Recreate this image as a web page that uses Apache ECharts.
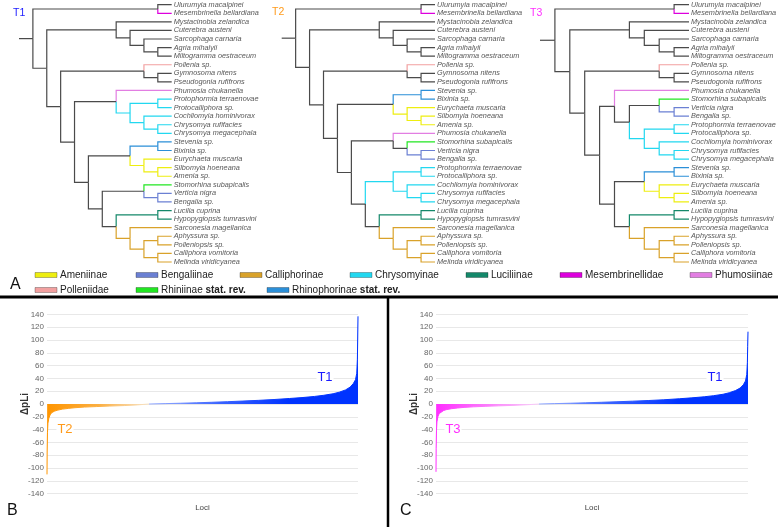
<!DOCTYPE html>
<html><head><meta charset="utf-8">
<script src="https://cdn.jsdelivr.net/npm/echarts@6/dist/echarts.min.js"></script>
<style>html,body{margin:0;padding:0;background:#fff}#c{width:778px;height:527px}</style>
</head><body><div id="c"></div>
<script>
// ---------- DATA ----------
const taxa = ['Ulurumyia macalpinei','Mesembrinella bellardiana','Mystacinobia zelandica','Cuterebra austeni',
 'Sarcophaga carnaria','Agria mihalyii','Miltogramma oestraceum','Pollenia sp.','Gymnosoma nitens',
 'Pseudogonia rufifrons','Phumosia chukanella','Protophormia terraenovae','Protocalliphora sp.',
 'Cochliomyia hominivorax','Chrysomya rufifacies','Chrysomya megacephala','Stevenia sp.','Bixinia sp.',
 'Eurychaeta muscaria','Silbomyia hoeneana','Amenia sp.','Stomorhina subapicalis','Verticia nigra',
 'Bengalia sp.','Lucilia cuprina','Hypopygiopsis tumrasvini','Sarconesia magellanica','Aphyssura sp.',
 'Polleniopsis sp.','Calliphora vomitoria','Melinda viridicyanea'];
// group index per taxon (-1 = uncoloured)
const taxonGroup = [-1,5,-1,-1,-1,-1,-1,7,-1,-1,6,3,3,3,3,3,9,9,0,0,0,8,1,1,4,4,2,2,2,2,2];
const groupNames = ['Ameniinae','Bengaliinae','Calliphorinae','Chrysomyinae','Luciliinae','Mesembrinellidae',
 'Phumosiinae','Polleniidae','Rhiniinae','Rhinophorinae'];
const groupColors = ['#eeee10','#6b80d3','#d9a22a','#22d8f0','#14886a','#dd00dd','#e27ee2','#f2a0a0','#22e622','#2b8fd8'];
const legendRow1 = [0,1,2,3,4,5,6];
const legendRow2 = [7,8,9];
const legendStatRev = [8,9];

// clades (taxon indices)
const cMes = [0,1];
const cOes = [2,[3,[4,[5,6]]]];
const cPol = [7,[8,9]];
const cChr = [[11,12],[13,[14,15]]];
const cRhAm = [[16,17],[18,[19,20]]];
const cRhBe = [21,[22,23]];
const cLuCa = [[24,25],[26,[[27,28],[29,30]]]];
const tree1 = [cMes,[cOes,[cPol,[[10,cChr],[cRhAm,[cRhBe,cLuCa]]]]]];
const tree2 = [cMes,[cOes,[cPol,[cRhAm,[[10,cRhBe],[cChr,cLuCa]]]]]];
const tree3 = [cMes,[cOes,[cPol,[[10,[cRhBe,cChr]],[cRhAm,cLuCa]]]]];
const treeLabels = ['T1','T2','T3'];

// ΔpLi per locus (loci as % of sorted loci)
const lociBNeg = [0,0.05,0.15,0.3,0.6,1.0,1.5,2.5,3.5,5,7,9,12,16,20,25,29,32.8];
const dpliBNeg = [-110,-75,-45,-30,-22,-17,-13.5,-11,-9.5,-8,-6.8,-5.8,-4.8,-4,-3.2,-2.4,-1.4,0];
const lociBPos = [32.8,38,43,48,53,58,63,68,73,78,82,86,89,92,94,96,97.5,98.5,99.2,99.6,99.8,99.9,100];
const dpliBPos = [0,0.6,1.2,1.9,2.7,3.6,4.6,5.7,7,8.6,10,11.8,13.6,16,18.5,22,26.5,32,38,48,70,100,137];
const lociCNeg = [0,0.05,0.15,0.3,0.6,1.0,1.5,2.5,3.5,5,7,9,12,16,20,25,29,33];
const dpliCNeg = [-106,-70,-42,-28,-20,-15,-12,-10,-8.6,-7.3,-6.2,-5.3,-4.4,-3.6,-2.9,-2.1,-1.2,0];
const lociCPos = [33,38,43,48,53,58,63,68,73,78,82,86,89,92,94,96,97.5,98.5,99.2,99.6,99.8,99.9,100];
const dpliCPos = [0,0.6,1.2,1.9,2.7,3.5,4.4,5.4,6.6,8.2,9.6,11.3,13,15.2,17.6,21,25,30,36,46,65,90,113];

// ---------- BUILD ----------
const FONT = '"Liberation Sans", Arial, sans-serif';
const DEF = '#4a4a4a';
function layoutTree(tree){
  let n = 0; const leaves = [], edges = [];
  const height = t => Array.isArray(t) ? 1 + Math.max(...t.map(height)) : 0;
  const H = height(tree);
  const groupOf = t => { if(!Array.isArray(t)) return taxonGroup[t];
    const g = t.map(groupOf); return g.every(v => v === g[0] && v >= 0) ? g[0] : -1; };
  function walk(t){
    if(!Array.isArray(t)){ const y = n++; leaves.push({name: taxa[t], value:[H,y]}); return {x:H,y}; }
    const k = t.map(walk);
    const x = H - height(t), y = (k[0].y + k[k.length-1].y)/2;
    t.forEach((c,i) => edges.push([x,k[i].x,y,k[i].y,groupOf(c)]));
    return {x,y};
  }
  const r = walk(tree);
  edges.push([-1,r.x,r.y,r.y,-1]);
  return {H, leaves, edges};
}
const trees = [tree1,tree2,tree3].map(layoutTree);
const treeLeft = [19, 281.7, 540], treeRight = [171.7, 435, 689];
const grid = [], xAxis = [], yAxis = [], series = [];
trees.forEach((t,i) => {
  grid.push({left: treeLeft[i], width: treeRight[i]-treeLeft[i], top: 4.7, height: 257.3, outerBoundsMode:'none'});
  xAxis.push({gridIndex:i, type:'value', min:-1, max:t.H, show:false});
  yAxis.push({gridIndex:i, type:'value', min:0, max:taxa.length-1, inverse:true, show:false});
  series.push({type:'custom', xAxisIndex:i, yAxisIndex:i, silent:true, data:t.edges,
    renderItem:(p,api) => {
      const g = api.value(4);
      const a = api.coord([api.value(0), api.value(2)]);
      const b = api.coord([api.value(0), api.value(3)]);
      const c = api.coord([api.value(1), api.value(3)]);
      return {type:'polyline', shape:{points:[a,b,c]},
        style:{stroke: g >= 0 ? groupColors[g] : DEF, fill:null, lineWidth:1.2}};
    }});
  series.push({type:'scatter', xAxisIndex:i, yAxisIndex:i, silent:true, symbolSize:0, data:t.leaves,
    label:{show:true, position:'right', distance:2, formatter:'{b}', fontStyle:'italic', fontSize:7.3,
      color:'#2a2a2a', textBorderWidth:0, fontFamily:FONT}});
});
const zip = (a,b) => a.map((v,i) => [v,b[i]]);
const grad = cs => new echarts.graphic.LinearGradient(0,0,1,0, cs.map((c,i)=>({offset:i/(cs.length-1), color:c})));
const charts = [
  {left:47, right:420, neg:zip(lociBNeg,dpliBNeg), pos:zip(lociBPos,dpliBPos), negCols:['#ff9500','#fbae40','#f8e6cc']},
  {left:436, right:30, neg:zip(lociCNeg,dpliCNeg), pos:zip(lociCPos,dpliCPos), negCols:['#ff2eff','#fb7cfb','#f8d4f8']}
];
charts.forEach((c,j) => {
  const gi = 3 + j;
  grid.push({left:c.left, right:c.right, top:314.4, bottom:33.4, outerBoundsMode:'none'});
  xAxis.push({gridIndex:gi, type:'value', min:0, max:100, axisLine:{show:false}, axisTick:{show:false},
    axisLabel:{show:false}, splitLine:{show:false}, name:'Loci', nameLocation:'middle', nameGap:10,
    nameMoveOverlap:false, nameTextStyle:{fontSize:8, color:'#444', fontFamily:FONT}});
  yAxis.push({gridIndex:gi, type:'value', min:-140, max:140, interval:20, axisLine:{show:false},
    axisTick:{show:false}, axisLabel:{fontSize:8, color:'#666', margin:3, fontFamily:FONT},
    splitLine:{lineStyle:{color:'#e8e8e8', width:1}}, name:'ΔpLi', nameLocation:'middle', nameGap:17,
    nameMoveOverlap:false, nameTextStyle:{fontSize:10, fontWeight:'bold', color:'#333', fontFamily:FONT}});
  series.push({type:'line', xAxisIndex:gi, yAxisIndex:gi, data:c.neg, symbol:'none', silent:true,
    lineStyle:{width:1, color:grad(c.negCols)}, areaStyle:{color:grad(c.negCols), opacity:1}});
  series.push({type:'line', xAxisIndex:gi, yAxisIndex:gi, data:c.pos, symbol:'none', silent:true,
    lineStyle:{width:1, color:grad(['#9fb3ff','#3a63ff','#0033ff','#0033ff'])},
    areaStyle:{color:grad(['#9fb3ff','#3a63ff','#0033ff','#0033ff']), opacity:1}});
});

// ---------- GRAPHIC (legend, labels, separators) ----------
const graphic = [];
const txt = (x,y,text,size,color,extra) => graphic.push({type:'text', x, y, z:10,
  style:Object.assign({text, fontSize:size, fill:color, fontFamily:FONT, verticalAlign:'middle', align:'left'}, extra||{})});
const row1X = [35,136,240,350,466,560,690], row2X = [35,136,267];
[[legendRow1,row1X,275],[legendRow2,row2X,290]].forEach(([idx,xs,y]) => idx.forEach((g,k) => {
  graphic.push({type:'rect', shape:{x:xs[k], y:y-2.5, width:22, height:5},
    style:{fill:groupColors[g], stroke:'rgba(0,0,0,0.35)', lineWidth:0.8}});
  if (legendStatRev.includes(g)) {
    graphic.push({type:'text', x:xs[k]+25, y, style:{text:'{a|'+groupNames[g]+' }{b|stat. rev.}',
      verticalAlign:'middle', fontFamily:FONT,
      rich:{a:{fontSize:10, fill:'#222', fontFamily:FONT}, b:{fontSize:10, fill:'#222', fontWeight:'bold', fontFamily:FONT}}}});
  } else txt(xs[k]+25, y, groupNames[g], 10, '#222');
}));
const tCols = ['#1a1aff','#ff9a1a','#ff2eff'];
const bg = {align:'center', backgroundColor:'#fff', padding:[0,1]};
txt(13,13,treeLabels[0],10.5,tCols[0]); txt(272,12.3,treeLabels[1],10.5,tCols[1]); txt(530,12.8,treeLabels[2],10.5,tCols[2]);
txt(65,429,'T2',13,tCols[1],bg); txt(325,377.5,'T1',13,tCols[0],bg);
txt(453,429,'T3',13,tCols[2],bg); txt(715,377.5,'T1',13,tCols[0],bg);
txt(10,285,'A',16,'#111'); txt(7,511,'B',16,'#111'); txt(400,511,'C',16,'#111');
graphic.push({type:'line', shape:{x1:0,y1:297,x2:778,y2:297}, style:{stroke:'#000', lineWidth:3}});
graphic.push({type:'line', shape:{x1:388,y1:297,x2:388,y2:527}, style:{stroke:'#000', lineWidth:2.5}});

const chart = echarts.init(document.getElementById('c'));
chart.setOption({animation:false, backgroundColor:'#fff', textStyle:{fontFamily:FONT},
  grid, xAxis, yAxis, series, graphic});
</script></body></html>
